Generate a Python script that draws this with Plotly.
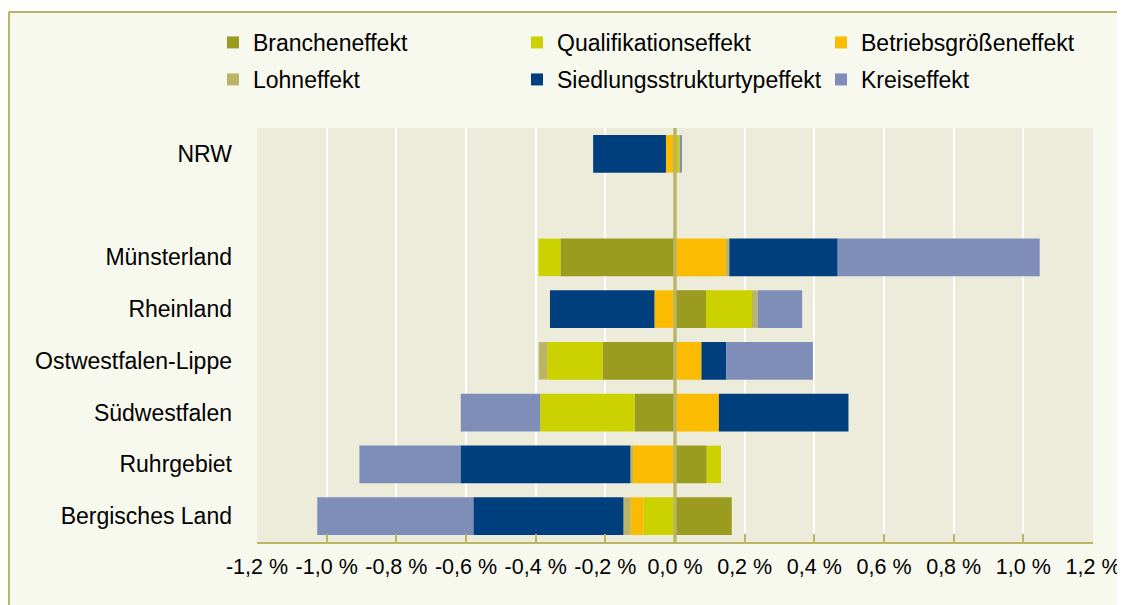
import plotly.graph_objects as go

# Categories (bottom to top in plot; spacer " " between NRW and regions)
regions = ["Bergisches Land", "Ruhrgebiet", "Südwestfalen", "Ostwestfalen-Lippe",
           "Rheinland", "Münsterland", " ", "NRW"]

# Effect values in percent points (None for spacer row)
branche      = [0.163, 0.091, -0.116, -0.208, 0.089, -0.329, None, 0.0]
qualifikation= [-0.091, 0.041, -0.271, -0.159, 0.132, -0.063, None, 0.0135]
betrieb      = [-0.036, -0.123, 0.126, 0.076, -0.059, 0.146, None, -0.026]
lohn         = [-0.021, -0.005, 0.0, -0.024, 0.016, 0.010, None, 0.0]
siedlung     = [-0.431, -0.488, 0.372, 0.071, -0.300, 0.311, None, -0.209]
kreis        = [-0.448, -0.290, -0.228, 0.249, 0.128, 0.580, None, 0.0066]

series_names = ["Brancheneffekt", "Qualifikationseffekt", "Betriebsgrößeneffekt",
                "Lohneffekt", "Siedlungsstrukturtypeffekt", "Kreiseffekt"]
series_values = [branche, qualifikation, betrieb, lohn, siedlung, kreis]
series_colors = ["#9A9B1F", "#CCD100", "#FBBB00", "#BAB566", "#003F7D", "#7F8EB8"]
legend_rows = ["legend", "legend", "legend", "legend2", "legend2", "legend2"]

tick_vals = [-1.2, -1.0, -0.8, -0.6, -0.4, -0.2, 0.0, 0.2, 0.4, 0.6, 0.8, 1.0, 1.2]
tick_text = ["-1,2 %", "-1,0 %", "-0,8 %", "-0,6 %", "-0,4 %", "-0,2 %", "0,0 %",
             "0,2 %", "0,4 %", "0,6 %", "0,8 %", "1,0 %", "1,2 %"]

KHAKI = "#BAB566"
FONT = "Liberation Sans, Arial, sans-serif"
FS = 23

fig = go.Figure()
for name, vals, col, lg in zip(series_names, series_values, series_colors, legend_rows):
    fig.add_trace(go.Bar(
        y=regions, x=vals, name=name, orientation="h", legend=lg,
        marker=dict(color=col, line=dict(width=0)),
    ))

# The page places the figure 8 px from the left/top edge of the window.
W, H = 1125, 597
ml, mr, mt, mb = 249, 40, 120, 63
pw = W - ml - mr
ph = H - mt - mb

def px_to_paper_x(px):
    return (px - ml) / pw

def px_to_paper_y(py):
    return (H - mb - py) / ph

legend_common = dict(
    orientation="h",
    x=px_to_paper_x(205), xanchor="left",
    yanchor="top",
    entrywidth=259, entrywidthmode="pixels",
    bgcolor="rgba(0,0,0,0)",
    font=dict(family=FONT, size=FS, color="black"),
    traceorder="normal",
)

fig.update_layout(
    width=W, height=H,
    margin=dict(l=ml, r=mr, t=mt, b=mb, pad=0, autoexpand=False),
    barmode="relative",
    bargap=0.275,
    paper_bgcolor="#F8F9EE",
    plot_bgcolor="#EDECDB",
    font=dict(family=FONT, size=FS, color="black"),
    showlegend=True,
    legend=dict(legend_common, y=px_to_paper_y(13)),
    legend2=dict(legend_common, y=px_to_paper_y(50)),
    xaxis=dict(
        range=[-1.2, 1.2],
        tickvals=tick_vals, ticktext=tick_text,
        showgrid=True, gridcolor="white", gridwidth=2,
        zeroline=False,
        showline=True, linecolor=KHAKI, linewidth=2,
        ticks="inside", ticklen=8, tickwidth=1.5, tickcolor=KHAKI,
        ticklabelstandoff=4,
        tickfont=dict(family=FONT, size=21.5, color="black"),
        automargin=False,
        fixedrange=True,
    ),
    yaxis=dict(
        type="category",
        categoryorder="array", categoryarray=regions,
        range=[-0.5, 7.5],
        showgrid=False, zeroline=False, showline=False,
        ticks="", ticklabelstandoff=24,
        tickfont=dict(family=FONT, size=FS, color="black"),
        automargin=False,
        fixedrange=True,
    ),
    shapes=[
        # white strip above the chart frame
        dict(type="rect", xref="paper", yref="paper",
             x0=px_to_paper_x(-20), x1=px_to_paper_x(1200),
             y0=px_to_paper_y(3), y1=px_to_paper_y(-20),
             fillcolor="white", line=dict(width=0), layer="above"),
        # khaki frame lines (left and top)
        dict(type="line", xref="paper", yref="paper",
             x0=px_to_paper_x(1), x1=px_to_paper_x(1),
             y0=px_to_paper_y(700), y1=px_to_paper_y(4),
             line=dict(color=KHAKI, width=2), layer="above"),
        dict(type="line", xref="paper", yref="paper",
             x0=px_to_paper_x(1), x1=px_to_paper_x(1200),
             y0=px_to_paper_y(4), y1=px_to_paper_y(4),
             line=dict(color=KHAKI, width=2), layer="above"),
        # zero reference line above bars
        dict(type="line", xref="x", yref="paper", x0=0, x1=0, y0=0, y1=1,
             line=dict(color=KHAKI, width=3.4), layer="above"),
    ],
)

fig.write_html(
    "out.html",
    post_script="document.documentElement.style.overflow='hidden';"
                "document.body.style.overflow='hidden';",
)
